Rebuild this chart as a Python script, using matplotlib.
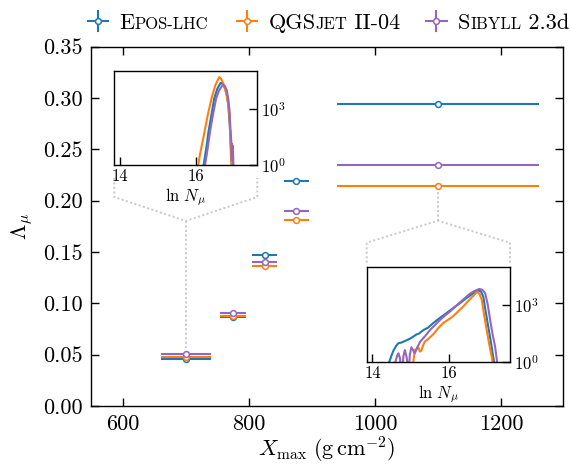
import numpy as np
import matplotlib
matplotlib.use("Agg")
import matplotlib.pyplot as plt
from matplotlib.offsetbox import DrawingArea, TextArea, HPacker, AnchoredOffsetbox
from matplotlib.lines import Line2D
from matplotlib.ticker import FixedLocator, FormatStrFormatter, NullLocator, LogFormatterSciNotation

plt.rcParams['font.family'] = 'serif'
plt.rcParams['font.serif'] = ['cmr10']
plt.rcParams['mathtext.fontset'] = 'cm'
plt.rcParams['axes.formatter.use_mathtext'] = True
plt.rcParams['axes.unicode_minus'] = False

# ---------------- data ----------------
models = ['EPOS-LHC', 'QGSJET II-04', 'SIBYLL 2.3d']
colors = ['#1f77b4', '#ff7f0e', '#9467bd']

xmax_centers = [700, 775, 825, 875, 1100]
xmax_halfwidth = [40, 20, 20, 20, 160]

lambda_epos = [0.046, 0.087, 0.1475, 0.2195, 0.294]
lambda_qgs = [0.048, 0.0875, 0.136, 0.1815, 0.214]
lambda_sib = [0.051, 0.091, 0.140, 0.1895, 0.235]
lambda_err = [0.001, 0.001, 0.001, 0.001, 0.001]

# inset 1 (first Xmax bin): ln N_mu and log10(counts)
in1_ln_epos = [16.15, 16.20, 16.27, 16.32, 16.40, 16.47, 16.55, 16.64, 16.70, 16.76, 16.80, 16.84, 16.89, 16.92, 16.95]
in1_lg_epos = [-0.5, 0.1, 1.0, 1.77, 2.7, 3.54, 4.05, 4.38, 4.3, 4.07, 3.7, 3.18, 1.77, 0.4, -0.8]
in1_ln_qgs = [16.00, 16.05, 16.10, 16.20, 16.30, 16.40, 16.50, 16.60, 16.65, 16.71, 16.76, 16.80, 16.84, 16.87, 16.90, 16.92, 16.95]
in1_lg_qgs = [-0.8, 0.0, 0.6, 1.6, 2.65, 3.55, 4.25, 4.68, 4.6, 4.33, 4.0, 3.71, 3.2, 2.65, 0.9, 0.0, -0.8]
in1_ln_sib = [16.18, 16.23, 16.30, 16.36, 16.44, 16.52, 16.60, 16.70, 16.75, 16.80, 16.84, 16.87, 16.90, 16.92, 16.93, 16.94, 16.95, 16.96, 16.97, 16.98]
in1_lg_sib = [-0.8, 0.0, 0.9, 1.77, 2.7, 3.54, 3.98, 4.28, 4.2, 3.98, 3.5, 2.95, 1.77, 1.2, 0.3, 1.1, 0.2, 1.0, 0.3, -1.0]

# inset 2 (last Xmax bin)
in2_ln_epos = [14.40, 14.44, 14.50, 14.55, 14.62, 14.68, 14.75, 14.81, 14.90, 15.00, 15.07, 15.15, 15.22, 15.28,
               15.35, 15.45, 15.59, 15.75, 15.94, 16.10, 16.29, 16.45, 16.64, 16.77, 16.84, 16.90, 16.96, 17.03,
               17.10, 17.16, 17.20, 17.25]
in2_lg_epos = [-0.8, 0.0, 0.35, 0.6, 0.85, 0.99, 1.02, 1.07, 1.15, 1.25, 1.34, 1.45, 1.5, 1.6,
               1.7, 1.8, 2.05, 2.3, 2.58, 2.82, 3.1, 3.35, 3.63, 3.77, 3.72, 3.45, 2.7, 1.87,
               1.05, 0.28, -0.2, -0.8]
in2_ln_qgs = [15.03, 15.07, 15.11, 15.16, 15.20, 15.24, 15.28, 15.33, 15.37, 15.45, 15.55, 15.63, 15.72, 15.85,
              16.00, 16.12, 16.25, 16.38, 16.50, 16.64, 16.73, 16.80, 16.86, 16.92, 16.99, 17.05, 17.12, 17.15, 17.20]
in2_lg_qgs = [-0.8, 0.0, 0.63, 0.7, 0.78, 0.55, 0.6, 0.9, 1.07, 1.2, 1.38, 1.55, 1.78, 2.05,
              2.25, 2.43, 2.68, 2.93, 3.2, 3.49, 3.69, 3.6, 3.28, 2.5, 1.69, 1.0, 0.28, -0.1, -0.8]
in2_ln_sib = [14.55, 14.60, 14.65, 14.68, 14.72, 14.77, 14.81, 14.85, 14.90, 14.94, 14.98, 15.02, 15.07, 15.11,
              15.18, 15.25, 15.38, 15.51, 15.64, 15.77, 15.90, 16.03, 16.16, 16.29, 16.42, 16.55, 16.68, 16.80,
              16.88, 16.95, 17.02, 17.08, 17.14, 17.21, 17.25, 17.30]
in2_lg_sib = [-0.8, 0.0, 0.35, 0.46, 0.2, -0.8, 0.3, 0.63, 0.2, -0.8, 0.4, 0.78, 0.6, 0.46,
              0.8, 1.07, 1.37, 1.69, 1.95, 2.22, 2.45, 2.66, 2.9, 3.14, 3.37, 3.6, 3.75, 3.85,
              3.8, 3.63, 3.0, 2.22, 1.5, 0.81, 0.2, -0.8]

# ---------------- figure ----------------
W, H = 571, 465
fig = plt.figure(figsize=(W / 100, H / 100), dpi=100)
ax = fig.add_axes([91.3 / W, 1 - 406 / H, 471.4 / W, 359.3 / H])

series = [lambda_epos, lambda_qgs, lambda_sib]
for vals, c in zip(series, colors):
    ax.errorbar(xmax_centers, vals, xerr=xmax_halfwidth, yerr=lambda_err, fmt='o', color=c,
                ms=4.2, mfc='white', mec=c, mew=1.1, elinewidth=1.5, capsize=0, zorder=3)

ax.set_xlim(550, 1298)
ax.set_ylim(0, 0.35)
ax.set_xticks([600, 800, 1000, 1200])
ax.set_yticks(np.arange(0, 0.351, 0.05))
ax.yaxis.set_major_formatter(FormatStrFormatter('%.2f'))
ax.xaxis.set_major_formatter(FormatStrFormatter('%d'))
ax.tick_params(direction='in', top=True, right=True, length=6, width=1.0, labelsize=16, pad=6)
for s in ax.spines.values():
    s.set_linewidth(1.0)
ax.set_xlabel(r'$X_\mathrm{max}\ (\mathrm{g\,cm^{-2}})$', fontsize=16, labelpad=1)
ax.set_ylabel(r'$\Lambda_\mu$', fontsize=16, labelpad=6)

# ---------------- insets ----------------
in1_box = [114.3, 165.0, 143.0, 94.3]   # left px, bottom px (from top), width, height
in2_box = [366.7, 362.0, 143.3, 95.3]

def make_inset(box, data):
    l, b, w, h = box
    iax = fig.add_axes([l / W, 1 - b / H, w / W, h / H])
    for (lnx, lgy), c in zip(data, colors):
        iax.plot(lnx, 10 ** np.array(lgy), color=c, lw=1.5)
    iax.set_yscale('log')
    iax.set_xlim(13.85, 17.6)
    iax.set_ylim(1, 1.05e5)
    iax.set_xticks([14, 16])
    iax.xaxis.set_major_formatter(FormatStrFormatter('%d'))
    iax.yaxis.set_major_locator(FixedLocator([1, 1e3]))
    iax.yaxis.set_major_formatter(LogFormatterSciNotation())
    iax.yaxis.set_minor_locator(NullLocator())
    iax.yaxis.tick_right()
    iax.tick_params(direction='in', length=6, width=1.0, labelsize=12, pad=3)
    for s in iax.spines.values():
        s.set_linewidth(1.0)
    iax.set_xlabel(r'$\ln\,N_\mu$', fontsize=12, labelpad=1)
    return iax

make_inset(in1_box, [(in1_ln_epos, in1_lg_epos), (in1_ln_qgs, in1_lg_qgs), (in1_ln_sib, in1_lg_sib)])
make_inset(in2_box, [(in2_ln_epos, in2_lg_epos), (in2_ln_qgs, in2_lg_qgs), (in2_ln_sib, in2_lg_sib)])

# ---------------- connectors ----------------
inv = ax.transData.inverted()
def px2data(px, py):
    return inv.transform((px, H - py))
def data2px(x, y):
    d = ax.transData.transform((x, y))
    return d[0], H - d[1]

conn_kw = dict(color='#c8c8c8', lw=1.4, ls=(0, (1, 1.3)), zorder=1, clip_on=False)

# inset 1 -> first bin
l, b, w, h = in1_box
xc, _ = data2px(xmax_centers[0], 0)
_, ytop = data2px(xmax_centers[0], max(lambda_epos[0], lambda_qgs[0], lambda_sib[0]))
pts = [px2data(l, b + 13), px2data(l, b + 32), px2data(xc, b + 56), px2data(l + w, b + 32), px2data(l + w, b + 13)]
ax.plot([p[0] for p in pts], [p[1] for p in pts], **conn_kw)
pts = [px2data(xc, b + 56), px2data(xc, ytop - 6)]
ax.plot([p[0] for p in pts], [p[1] for p in pts], **conn_kw)

# inset 2 -> last bin
l, b, w, h = in2_box
t = b - h
xc, _ = data2px(xmax_centers[-1], 0)
_, ybot = data2px(xmax_centers[-1], min(lambda_epos[-1], lambda_qgs[-1], lambda_sib[-1]))
pts = [px2data(l, t - 4), px2data(l, t - 24), px2data(xc, t - 46), px2data(l + w, t - 24), px2data(l + w, t - 4)]
ax.plot([p[0] for p in pts], [p[1] for p in pts], **conn_kw)
pts = [px2data(xc, t - 46), px2data(xc, ybot + 6)]
ax.plot([p[0] for p in pts], [p[1] for p in pts], **conn_kw)

# ---------------- legend (small caps emulated) ----------------
big, small = 16, 12
legend_pieces = [
    [('E', big), ('POS-LHC', small)],
    [('QGS', big), ('JET', small), (' II-04', big)],
    [('S', big), ('IBYLL', small), (' 2.3d', big)],
]
legend_x = [87.6, 236.5, 426.0]

def legend_item(color, pieces):
    hw, hh, yd = 15.0, 14.4, 1.7
    da = DrawingArea(hw, hh, 0, yd)
    yc = hh / 2 - yd
    da.add_artist(Line2D([0, hw], [yc, yc], color=color, lw=1.5))
    da.add_artist(Line2D([hw / 2, hw / 2], [-yd, hh - yd], color=color, lw=1.5))
    da.add_artist(Line2D([hw / 2], [yc], marker='o', ms=4.2, mfc='white', mec=color, mew=1.1, ls='none'))
    texts = [TextArea(tx, textprops=dict(size=sz, family='serif')) for tx, sz in pieces]
    tbox = HPacker(children=texts, align='baseline', pad=0, sep=0)
    return HPacker(children=[da, tbox], align='baseline', pad=0, sep=8)

for lx, c, pieces in zip(legend_x, colors, legend_pieces):
    item = legend_item(c, pieces)
    ab = AnchoredOffsetbox(loc='center left', child=item, pad=0, borderpad=0, frameon=False,
                           bbox_to_anchor=(lx / W, 1 - 22 / H), bbox_transform=fig.transFigure)
    fig.add_artist(ab)

fig.savefig('out.png', dpi=100)
